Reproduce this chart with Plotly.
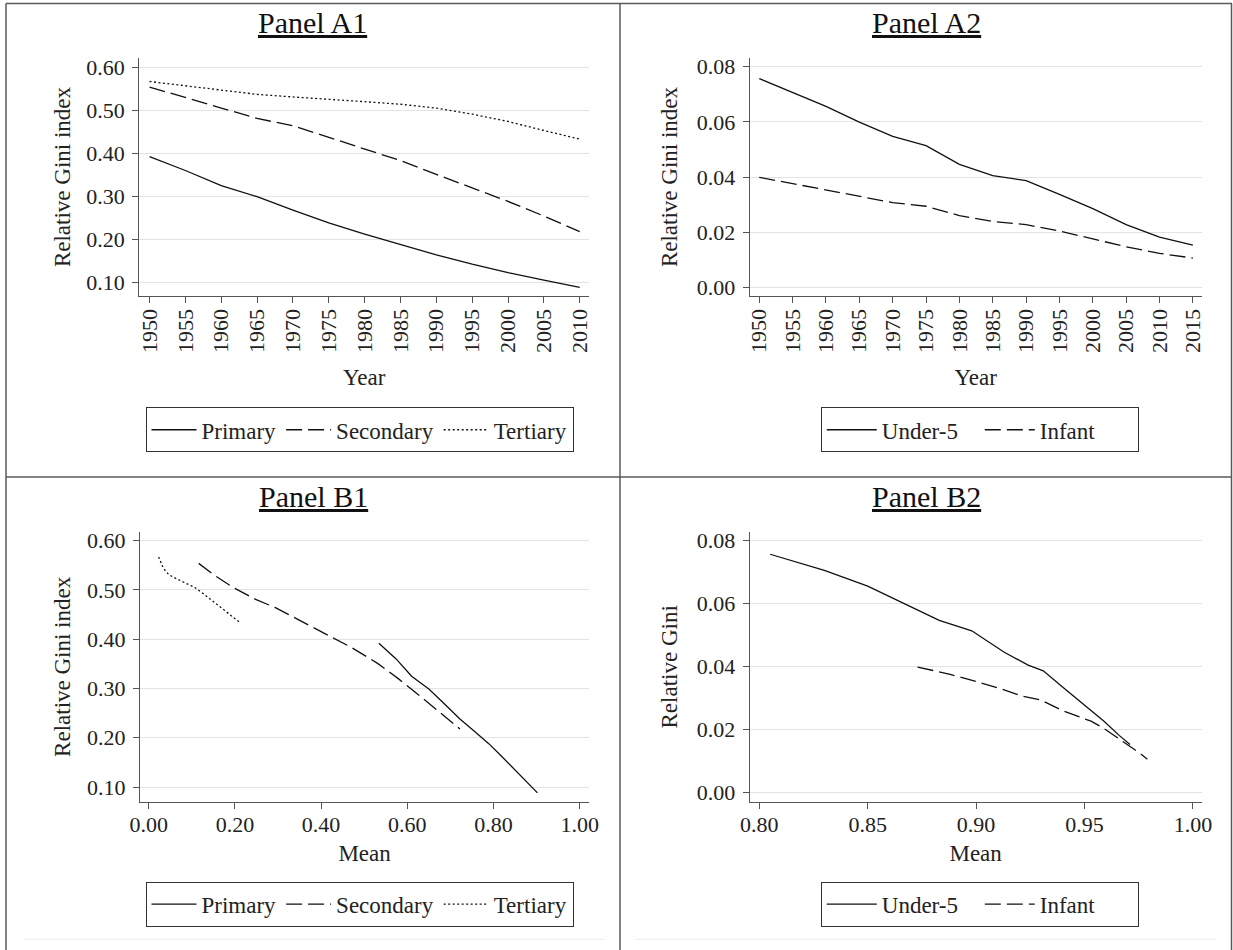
import plotly.graph_objects as go

W, H = 1233, 950
FONT = "Liberation Serif"

# ---------------- data ----------------
years_edu = [1950, 1955, 1960, 1965, 1970, 1975, 1980, 1985, 1990, 1995, 2000, 2005, 2010]
primary_gini = [0.392, 0.360, 0.325, 0.299, 0.268, 0.238, 0.212, 0.188, 0.164, 0.142, 0.1225, 0.105, 0.088]
secondary_gini = [0.554, 0.530, 0.505, 0.481, 0.464, 0.437, 0.410, 0.383, 0.351, 0.320, 0.288, 0.254, 0.218]
tertiary_gini = [0.567, 0.557, 0.546, 0.537, 0.531, 0.526, 0.520, 0.514, 0.505, 0.491, 0.474, 0.453, 0.433]

primary_mean = [0.534, 0.574, 0.610, 0.650, 0.687, 0.722, 0.757, 0.789, 0.817, 0.842, 0.865, 0.884, 0.902]
secondary_mean = [0.116, 0.152, 0.196, 0.248, 0.294, 0.353, 0.412, 0.471, 0.531, 0.579, 0.625, 0.672, 0.722]
tertiary_mean = [0.023, 0.028, 0.033, 0.040, 0.047, 0.057, 0.072, 0.087, 0.107, 0.129, 0.154, 0.184, 0.213]

years_mort = [1950, 1955, 1960, 1965, 1970, 1975, 1980, 1985, 1990, 1995, 2000, 2005, 2010, 2015]
under5_gini = [0.0757, 0.0706, 0.0656, 0.0599, 0.0547, 0.0514, 0.0446, 0.0405, 0.0387, 0.0337, 0.0285, 0.0227, 0.0182, 0.0153]
infant_gini = [0.0399, 0.0376, 0.0353, 0.0329, 0.0307, 0.0294, 0.0260, 0.0239, 0.0227, 0.0204, 0.0176, 0.0147, 0.0123, 0.0106]

under5_mean = [0.805, 0.830, 0.850, 0.867, 0.883, 0.898, 0.913, 0.924, 0.931, 0.9396, 0.949, 0.959, 0.966, 0.971]
infant_mean = [0.873, 0.888, 0.900, 0.912, 0.921, 0.930, 0.940, 0.948, 0.953, 0.959, 0.965, 0.971, 0.976, 0.979]

panel_titles = ["Panel A1", "Panel A2", "Panel B1", "Panel B2"]

# ---------------- helpers ----------------
def px_x(p):
    return p / W

def px_y(p):
    return 1 - p / H

LINE_W = 1.3
DASH = "16px,6px"
DOT = "2px,2.5px"
INK = "#111111"

fig = go.Figure()

def add(x, y, name, dash, xa, ya, legend, show=True):
    fig.add_trace(go.Scatter(
        x=x, y=y, name=name, mode="lines",
        line=dict(color=INK, width=LINE_W, dash=dash),
        xaxis=xa, yaxis=ya, legend=legend, showlegend=show,
        hoverinfo="x+y+name",
    ))

# Panel A1
add(years_edu, primary_gini, "Primary", "solid", "x", "y", "legend")
add(years_edu, secondary_gini, "Secondary", DASH, "x", "y", "legend")
add(years_edu, tertiary_gini, "Tertiary", DOT, "x", "y", "legend")
# Panel A2
add(years_mort, under5_gini, "Under-5", "solid", "x2", "y2", "legend2")
add(years_mort, infant_gini, "Infant", DASH, "x2", "y2", "legend2")
# Panel B1
add(primary_mean, primary_gini, "Primary", "solid", "x3", "y3", "legend3")
add(secondary_mean, secondary_gini, "Secondary", DASH, "x3", "y3", "legend3")
add(tertiary_mean, tertiary_gini, "Tertiary", DOT, "x3", "y3", "legend3")
# Panel B2
add(under5_mean, under5_gini, "Under-5", "solid", "x4", "y4", "legend4")
add(infant_mean, infant_gini, "Infant", DASH, "x4", "y4", "legend4")

AXC = "#555555"
GRID = "#e3e3e3"
TICKF = dict(family=FONT, size=22, color="#222222")
TITLEF = dict(family=FONT, size=23, color="#222222")

def xaxis(dom, rng, tickvals, fmt, angle, title, anchor, standoff, lab_off):
    return dict(
        domain=dom, range=rng, anchor=anchor,
        tickmode="array", tickvals=tickvals,
        tickformat=fmt, tickangle=angle,
        showline=True, linecolor=AXC, linewidth=1.3,
        ticks="outside", ticklen=6, tickcolor=AXC, tickwidth=1.2,
        ticklabelstandoff=lab_off,
        showgrid=False, zeroline=False, automargin=False,
        tickfont=TICKF,
        title=dict(text=title, font=TITLEF, standoff=standoff),
        fixedrange=True,
    )

def yaxis(dom, rng, tickvals, title, anchor, standoff):
    return dict(
        domain=dom, range=rng, anchor=anchor,
        tickmode="array", tickvals=tickvals, tickformat=".2f",
        showline=True, linecolor=AXC, linewidth=1.3,
        ticks="outside", ticklen=6, tickcolor=AXC, tickwidth=1.2,
        ticklabelstandoff=3,
        showgrid=True, gridcolor=GRID, gridwidth=1.2,
        zeroline=False, automargin=False, tickfont=TICKF,
        title=dict(text=title, font=TITLEF, standoff=standoff),
        fixedrange=True,
    )

xa_left = [px_x(139.2), px_x(589.2)]
xa_right = [px_x(749.8), px_x(1201.5)]
ya_top = [px_y(296), px_y(58)]
ya_bot = [px_y(802), px_y(531.7)]

layout_axes = dict(
    xaxis=xaxis(xa_left, [1948.56, 2011.32], years_edu, "d", -90, "Year", "y", 16, -3),
    yaxis=yaxis(ya_top, [0.0681, 0.6216], [0.1, 0.2, 0.3, 0.4, 0.5, 0.6], "Relative Gini index", "x", 9),
    xaxis2=xaxis(xa_right, [1948.58, 2016.29], years_mort, "d", -90, "Year", "y2", 16, -3),
    yaxis2=yaxis(ya_top, [-0.00316, 0.08316], [0.0, 0.02, 0.04, 0.06, 0.08], "Relative Gini index", "x2", 12),
    xaxis3=xaxis([px_x(140), px_x(589.2)], [-0.0202, 1.022], [0, 0.2, 0.4, 0.6, 0.8, 1.0], ".2f", 0, "Mean", "y3", 9, -4),
    yaxis3=yaxis(ya_bot, [0.06955, 0.6183], [0.1, 0.2, 0.3, 0.4, 0.5, 0.6], "Relative Gini index", "x3", 9),
    xaxis4=xaxis(xa_right, [0.79562, 1.00397], [0.8, 0.85, 0.9, 0.95, 1.0], ".2f", 0, "Mean", "y4", 9, -4),
    yaxis4=yaxis(ya_bot, [-0.00295, 0.08286], [0.0, 0.02, 0.04, 0.06, 0.08], "Relative Gini", "x4", 12),
)

fig.update_layout(
    template="none",
    width=W, height=H,
    margin=dict(l=0, r=0, t=0, b=0, pad=0, autoexpand=False),
    paper_bgcolor="white", plot_bgcolor="white",
    font=dict(family=FONT, color="#222222"),
    **layout_axes,
)

def legend(xp, yp, itemw, entrywidth=None):
    d = dict(
        x=px_x(xp), y=px_y(yp), xanchor="left", yanchor="top",
        xref="paper", yref="paper",
        orientation="h", bgcolor="white",
        bordercolor="#333333", borderwidth=1,
        font=dict(family=FONT, size=23, color="#222222"),
        itemwidth=itemw, tracegroupgap=0,
    )
    if entrywidth:
        d["entrywidth"] = entrywidth
        d["entrywidthmode"] = "pixels"
    return d

fig.update_layout(
    legend=legend(145.5, 407.3, 45),
    legend2=legend(820.8, 407.3, 50, 93),
    legend3=legend(145.5, 881.7, 45),
    legend4=legend(820.8, 881.7, 50, 93),
)

# panel titles (underlined)
for txt, cx, cy in zip(panel_titles, [312.4, 926.4, 313.6, 926.0], [22.7, 22.7, 496.0, 496.0]):
    fig.add_annotation(
        text="<u>" + txt + "</u>", x=px_x(cx), y=px_y(cy),
        xref="paper", yref="paper", xanchor="center", yanchor="middle",
        showarrow=False, font=dict(family=FONT, size=30, color="#111111"),
    )

# frame / cell borders
FR = "#5a5a5a"
frame = [
    (6, 3.5, 1232, 3.5),
    (6, 3.5, 6, 950),
    (1231.5, 3.5, 1231.5, 950),
    (620, 3.5, 620, 950),
    (6, 477, 1232, 477),
]
for x0, y0, x1, y1 in frame:
    fig.add_shape(type="line", xref="paper", yref="paper",
                  x0=px_x(x0), y0=px_y(y0), x1=px_x(x1), y1=px_y(y1),
                  line=dict(color=FR, width=1.5), layer="above")
for x0, x1 in [(24, 605), (635, 1216)]:
    fig.add_shape(type="line", xref="paper", yref="paper",
                  x0=px_x(x0), y0=px_y(939.3), x1=px_x(x1), y1=px_y(939.3),
                  line=dict(color="#eeeeee", width=1), layer="below")

fig.write_html("out.html")
